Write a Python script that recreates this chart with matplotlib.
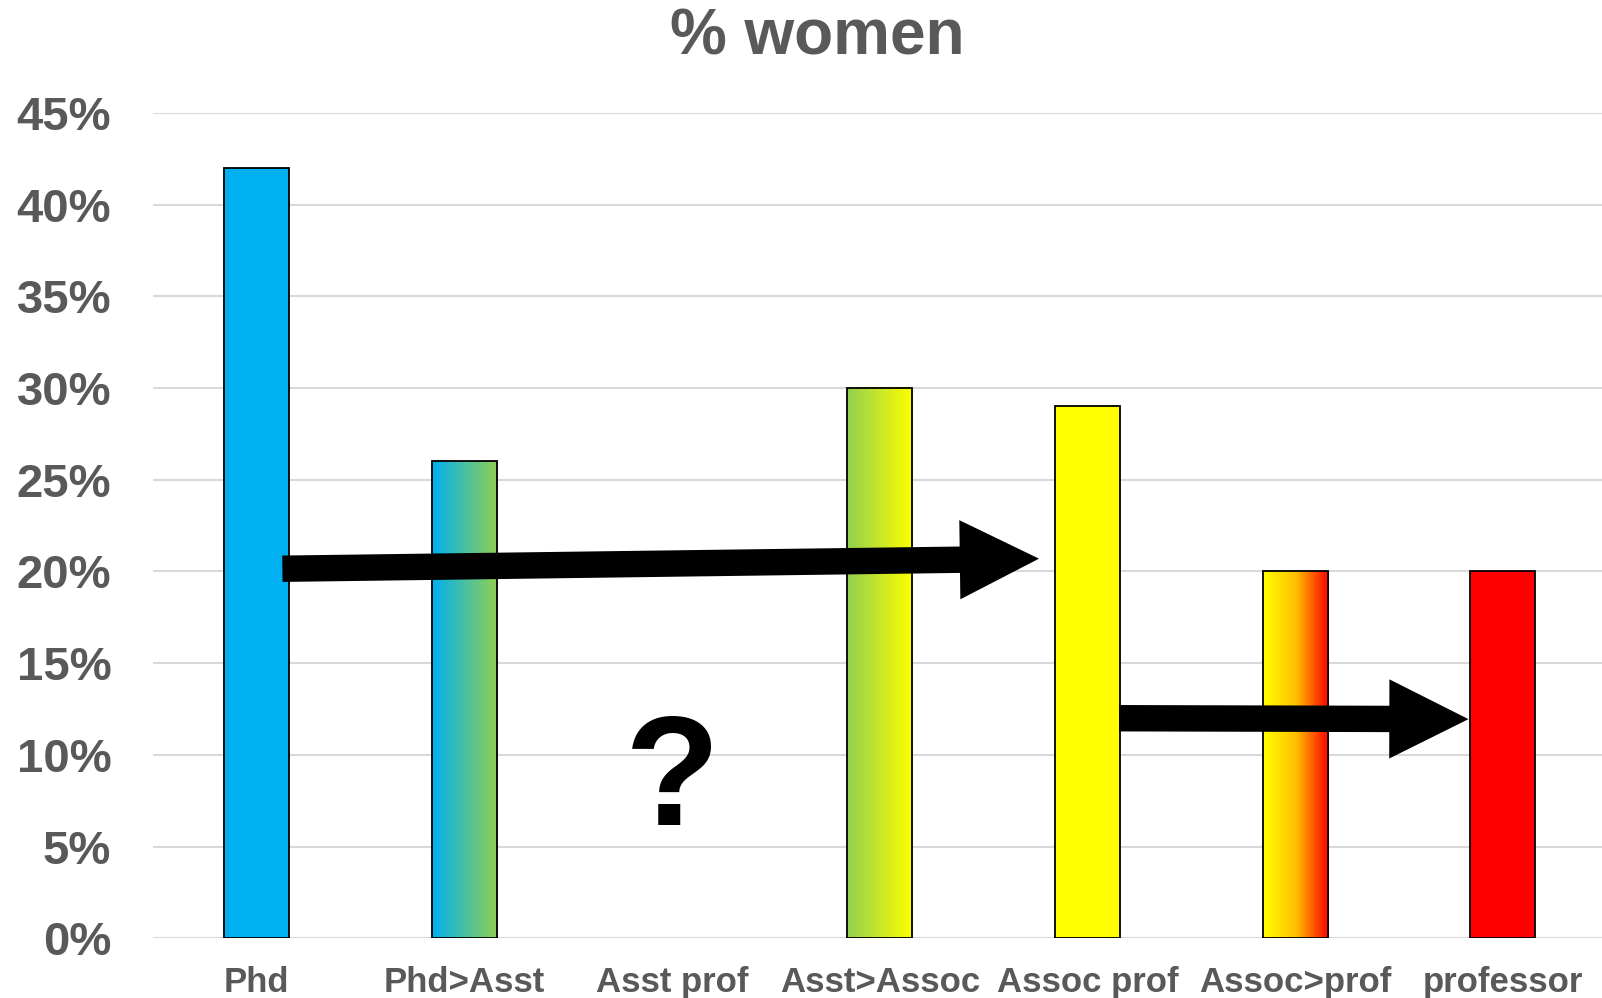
import numpy as np
import matplotlib
matplotlib.use("Agg")
from matplotlib import pyplot as plt
from matplotlib.colors import LinearSegmentedColormap
from matplotlib.patches import FancyArrowPatch
from matplotlib.ticker import FuncFormatter, MultipleLocator

plt.rcParams['font.family'] = ['Liberation Sans', 'DejaVu Sans']
plt.rcParams['font.weight'] = 'bold'

#-----------------------------------------------------------------------
#	data
#-----------------------------------------------------------------------

stages = ['Phd', 'Phd>Asst', 'Asst prof', 'Asst>Assoc', 'Assoc prof', 'Assoc>prof', 'professor']
pctWomen = [42, 26, np.nan, 30, 29, 20, 20]
# left -> right colour stops for each bar (one stop = plain fill)
barColors = [
	['#00B0F0'],
	['#00B0F0', '#92D050'],
	[],
	['#92D050', '#FFFF00'],
	['#FFFF00'],
	['#FFFF00', '#FFC000', '#FF0000'],
	['#FF0000'],
]
# arrows: (x, y) tail -> (x, y) head in data units
arrows = [
	((0.123, 20.15), (3.766, 20.70)),
	((4.152, 12.00), (5.834, 11.95)),
]
questionAt = (2, 6.2)

gray = '#595959'
gridGray = '#D9D9D9'
barWidth = 0.313

fig = plt.figure(figsize=(16.02, 9.98), dpi=100)
ax = fig.add_axes([0.0955, 0.0598, 0.9075, 0.8270])

x = np.arange(len(stages))
heights = np.nan_to_num(pctWomen)
bars = ax.bar(x, heights, width=barWidth, color='none', edgecolor='black', linewidth=1.3, zorder=3)

for b, v, cols in zip(bars, pctWomen, barColors):
	if np.isnan(v) or not cols:
		b.set_visible(False)
		continue
	if len(cols) == 1:
		b.set_facecolor(cols[0])
		continue
	cmap = LinearSegmentedColormap.from_list('grad', cols)
	grad = np.linspace(0, 1, 256).reshape(1, -1)
	x0, y0 = b.get_x(), b.get_y()
	ax.imshow(grad, cmap=cmap, aspect='auto', interpolation='bilinear',
		extent=(x0, x0 + b.get_width(), y0, y0 + b.get_height()), zorder=2)

for tail, head in arrows:
	ar = FancyArrowPatch(tail, head, arrowstyle='simple,head_length=57,head_width=57,tail_width=19',
		mutation_scale=1, shrinkA=0, shrinkB=0, color='black', linewidth=0, zorder=5)
	ax.add_patch(ar)

ax.text(questionAt[0], questionAt[1], '?', ha='center', va='baseline',
	fontsize=112, fontweight='bold', color='black', zorder=5)

ax.set_xlim(-0.5, len(stages) - 0.5)
ax.set_ylim(0, 45)
ax.yaxis.set_major_locator(MultipleLocator(5))
ax.yaxis.set_major_formatter(FuncFormatter(lambda v, p: '{:.0f}%'.format(v)))
ax.grid(axis='y', color=gridGray, linewidth=1.5, zorder=0)
ax.set_axisbelow(True)
for s in ax.spines.values():
	s.set_visible(False)
ax.set_xticks(x)
ax.set_xticklabels(stages)
ax.tick_params(axis='x', length=0, pad=20, labelsize=25, labelcolor=gray)
ax.tick_params(axis='y', length=0, pad=30, labelsize=34, labelcolor=gray)

fig.text(0.51, 0.945, '% women', ha='center', va='baseline', fontsize=46,
	fontweight='bold', color=gray)

fig.savefig('out.png', dpi=100)
